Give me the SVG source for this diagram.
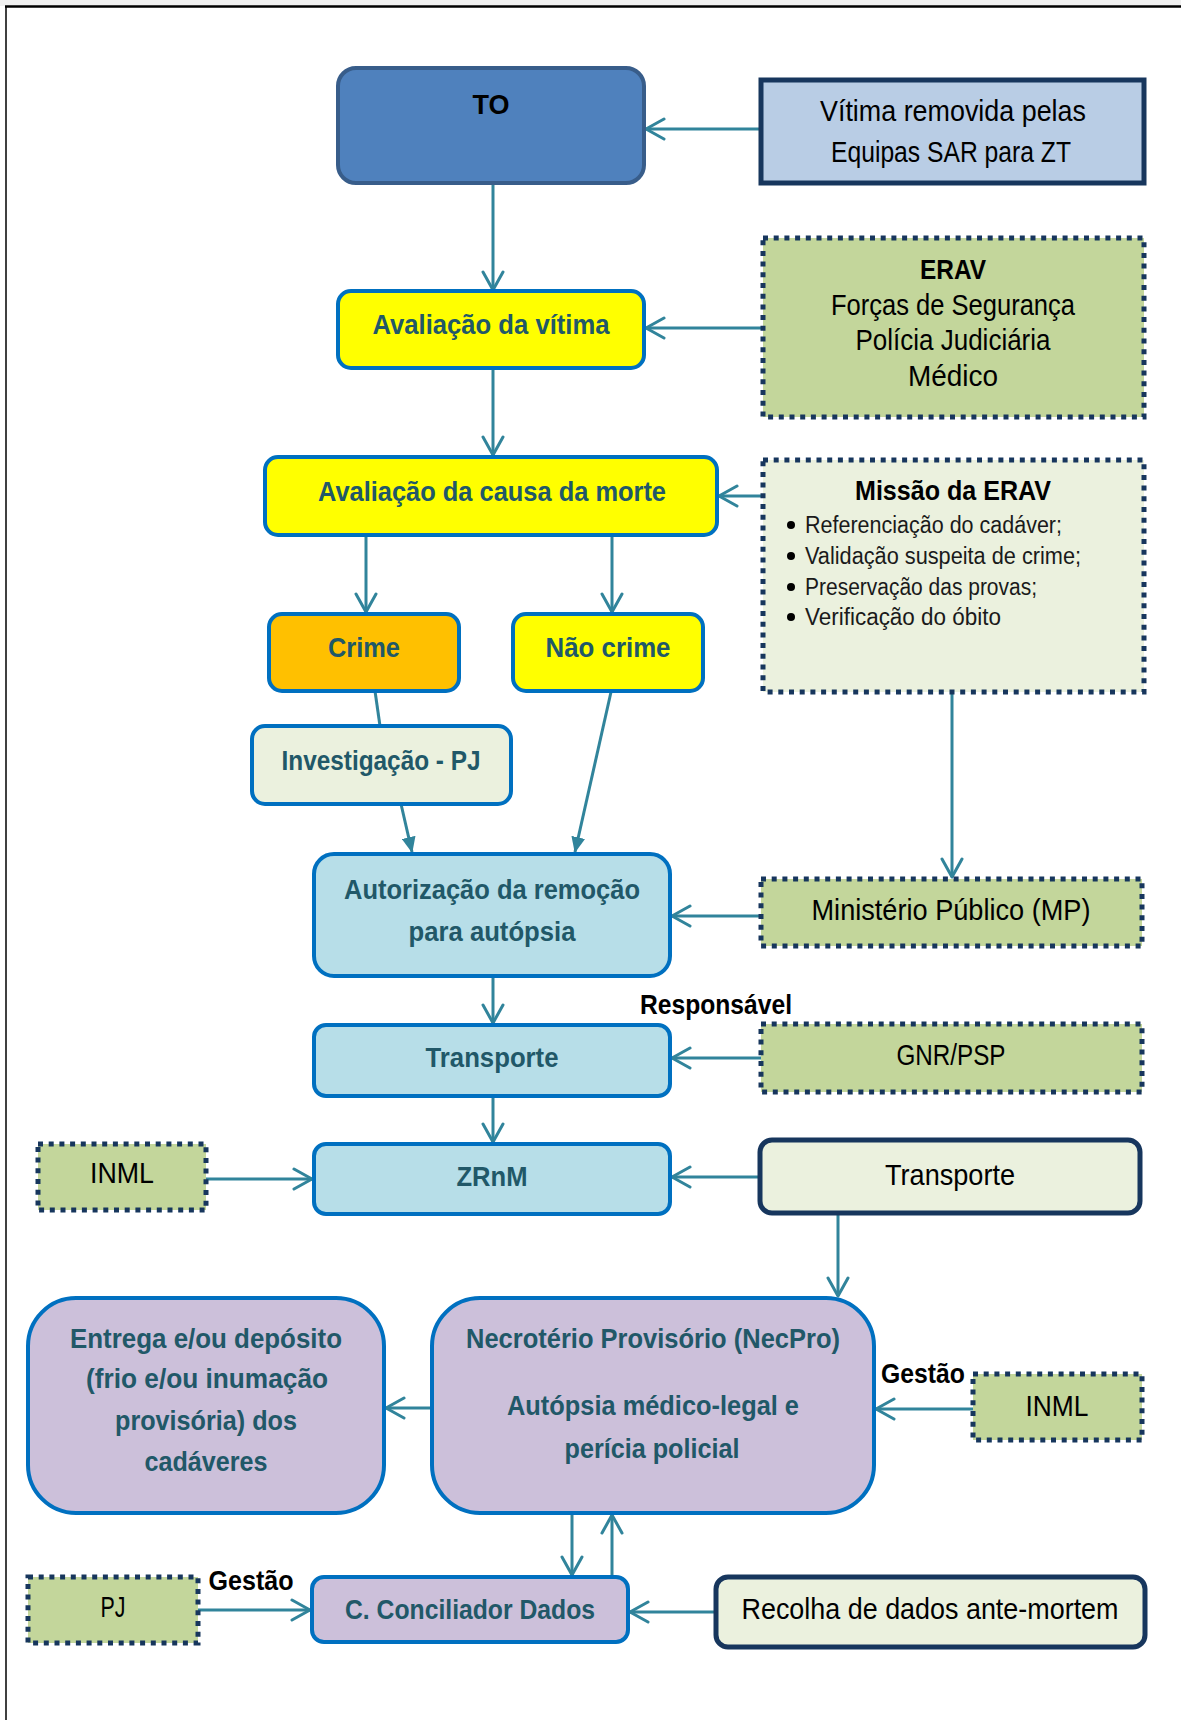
<svg xmlns="http://www.w3.org/2000/svg" width="1181" height="1720" viewBox="0 0 1181 1720">
<defs>
<style>
.t{font-family:"Liberation Sans",Arial,sans-serif;text-anchor:middle}
.b{font-weight:bold;font-size:28px;fill:#215868}
.r{font-size:29px;fill:#000}
.k{font-weight:bold;font-size:28px;fill:#000}
.s{font-family:"Liberation Sans",Arial,sans-serif;font-size:23px;fill:#1a1a1a}
.c{fill:none;stroke:#31849B;stroke-width:3}
.bl{stroke:#0070C0;stroke-width:4}
.dot{fill:#C3D69B;stroke:#17365D;stroke-width:5;stroke-dasharray:5 5.7}
.navy{stroke:#17365D;stroke-width:5}
</style>
<marker id="o" viewBox="0 0 24 24" markerWidth="24" markerHeight="24" refX="21" refY="12" orient="auto" markerUnits="userSpaceOnUse">
<path d="M3,2 L21,12 L3,22" fill="none" stroke="#31849B" stroke-width="3" stroke-linecap="round" stroke-linejoin="round"/>
</marker>
<marker id="f" viewBox="0 0 16 14" markerWidth="16" markerHeight="14" refX="15" refY="7" orient="auto" markerUnits="userSpaceOnUse">
<path d="M0,0 L16,7 L0,14 Z" fill="#31849B"/>
</marker>
</defs>
<rect x="0" y="0" width="1181" height="1720" fill="#fff"/>
<rect x="0" y="0" width="1181" height="6" fill="#F0F0F0"/>
<line x1="5" y1="6.5" x2="1181" y2="6.5" stroke="#000" stroke-width="2.5"/>
<line x1="6" y1="6" x2="6" y2="1720" stroke="#000" stroke-width="1.5"/>

<g id="connectors">
<path class="c" d="M761,129 H646" marker-end="url(#o)"/>
<path class="c" d="M493,183 V290" marker-end="url(#o)"/>
<path class="c" d="M763,328 H646" marker-end="url(#o)"/>
<path class="c" d="M493,368 V455" marker-end="url(#o)"/>
<path class="c" d="M763,496 H719" marker-end="url(#o)"/>
<path class="c" d="M366,535 V612" marker-end="url(#o)"/>
<path class="c" d="M612,535 V612" marker-end="url(#o)"/>
<path class="c" d="M375,691 L380,726"/>
<path class="c" d="M401,804 L412,852" marker-end="url(#f)"/>
<path class="c" d="M611,692 L575,852" marker-end="url(#f)"/>
<path class="c" d="M952,692 V877" marker-end="url(#o)"/>
<path class="c" d="M761,916 H672" marker-end="url(#o)"/>
<path class="c" d="M493,976 V1023" marker-end="url(#o)"/>
<path class="c" d="M761,1058 H672" marker-end="url(#o)"/>
<path class="c" d="M493,1096 V1142" marker-end="url(#o)"/>
<path class="c" d="M206,1179 H312" marker-end="url(#o)"/>
<path class="c" d="M760,1177 H672" marker-end="url(#o)"/>
<path class="c" d="M838,1213 V1296" marker-end="url(#o)"/>
<path class="c" d="M432,1408 H386" marker-end="url(#o)"/>
<path class="c" d="M973,1409 H876" marker-end="url(#o)"/>
<path class="c" d="M572,1513 V1575" marker-end="url(#o)"/>
<path class="c" d="M612,1577 V1515" marker-end="url(#o)"/>
<path class="c" d="M198,1610 H310" marker-end="url(#o)"/>
<path class="c" d="M716,1612 H630" marker-end="url(#o)"/>
</g>

<g id="to">
<rect x="338" y="68" width="306" height="115" rx="18" fill="#4F81BD" stroke="#385D8A" stroke-width="4"/>
<text class="t k" x="491" y="114" textLength="37" lengthAdjust="spacingAndGlyphs">TO</text>
</g>
<g id="vitima-removida">
<rect x="761" y="80" width="383" height="103" fill="#B9CDE5" class="navy"/>
<text class="t r" x="953" y="121" textLength="266" lengthAdjust="spacingAndGlyphs">Vítima removida pelas</text>
<text class="t r" x="951" y="162" textLength="240" lengthAdjust="spacingAndGlyphs">Equipas SAR para ZT</text>
</g>
<g id="avaliacao-vitima">
<rect x="338" y="291" width="306" height="77" rx="13" fill="#FFFF00" class="bl"/>
<text class="t b" x="491" y="334" textLength="237" lengthAdjust="spacingAndGlyphs">Avaliação da vítima</text>
</g>
<g id="erav">
<rect x="763" y="238" width="381" height="179" class="dot"/>
<text class="t k" x="953" y="279" textLength="66" lengthAdjust="spacingAndGlyphs">ERAV</text>
<text class="t r" x="953" y="315" textLength="244" lengthAdjust="spacingAndGlyphs">Forças de Segurança</text>
<text class="t r" x="953" y="350" textLength="195" lengthAdjust="spacingAndGlyphs">Polícia Judiciária</text>
<text class="t r" x="953" y="386" textLength="90" lengthAdjust="spacingAndGlyphs">Médico</text>
</g>
<g id="avaliacao-causa">
<rect x="265" y="457" width="452" height="78" rx="13" fill="#FFFF00" class="bl"/>
<text class="t b" x="492" y="501" textLength="348" lengthAdjust="spacingAndGlyphs">Avaliação da causa da morte</text>
</g>
<g id="missao-erav">
<rect x="763" y="460" width="381" height="232" class="dot" style="fill:#EBF1DE"/>
<text class="t k" x="953" y="500" textLength="196" lengthAdjust="spacingAndGlyphs">Missão da ERAV</text>
<circle cx="791" cy="525" r="4" fill="#000"/>
<circle cx="791" cy="556" r="4" fill="#000"/>
<circle cx="791" cy="587" r="4" fill="#000"/>
<circle cx="791" cy="617" r="4" fill="#000"/>
<text class="s" x="805" y="533" textLength="257" lengthAdjust="spacingAndGlyphs">Referenciação do cadáver;</text>
<text class="s" x="805" y="564" textLength="276" lengthAdjust="spacingAndGlyphs">Validação suspeita de crime;</text>
<text class="s" x="805" y="595" textLength="232" lengthAdjust="spacingAndGlyphs">Preservação das provas;</text>
<text class="s" x="805" y="625" textLength="196" lengthAdjust="spacingAndGlyphs">Verificação do óbito</text>
</g>
<g id="crime">
<rect x="269" y="614" width="190" height="77" rx="13" fill="#FFC000" class="bl"/>
<text class="t b" x="364" y="657" textLength="72" lengthAdjust="spacingAndGlyphs">Crime</text>
</g>
<g id="nao-crime">
<rect x="513" y="614" width="190" height="77" rx="13" fill="#FFFF00" class="bl"/>
<text class="t b" x="608" y="657" textLength="125" lengthAdjust="spacingAndGlyphs">Não crime</text>
</g>
<g id="investigacao">
<rect x="252" y="726" width="259" height="78" rx="13" fill="#EBF1DE" class="bl"/>
<text class="t b" x="381" y="770" textLength="199" lengthAdjust="spacingAndGlyphs">Investigação - PJ</text>
</g>
<g id="autorizacao">
<rect x="314" y="854" width="356" height="122" rx="20" fill="#B7DEE8" class="bl"/>
<text class="t b" x="492" y="899" textLength="296" lengthAdjust="spacingAndGlyphs">Autorização da remoção</text>
<text class="t b" x="492" y="941" textLength="167" lengthAdjust="spacingAndGlyphs">para autópsia</text>
</g>
<g id="mp">
<rect x="761" y="879" width="381" height="67" class="dot"/>
<text class="t r" x="951" y="920" textLength="279" lengthAdjust="spacingAndGlyphs">Ministério Público (MP)</text>
</g>
<text class="t k" x="716" y="1014" textLength="152" lengthAdjust="spacingAndGlyphs">Responsável</text>
<g id="transporte">
<rect x="314" y="1025" width="356" height="71" rx="12" fill="#B7DEE8" class="bl"/>
<text class="t b" x="492" y="1067" textLength="133" lengthAdjust="spacingAndGlyphs">Transporte</text>
</g>
<g id="gnr-psp">
<rect x="761" y="1024" width="381" height="68" class="dot"/>
<text class="t r" x="951" y="1065" textLength="109" lengthAdjust="spacingAndGlyphs">GNR/PSP</text>
</g>
<g id="inml-1">
<rect x="38" y="1144" width="168" height="66" class="dot"/>
<text class="t r" x="122" y="1183" textLength="64" lengthAdjust="spacingAndGlyphs">INML</text>
</g>
<g id="zrnm">
<rect x="314" y="1144" width="356" height="70" rx="12" fill="#B7DEE8" class="bl"/>
<text class="t b" x="492" y="1186" textLength="71" lengthAdjust="spacingAndGlyphs">ZRnM</text>
</g>
<g id="transporte-2">
<rect x="760" y="1140" width="380" height="73" rx="12" fill="#EBF1DE" class="navy"/>
<text class="t r" x="950" y="1185" textLength="130" lengthAdjust="spacingAndGlyphs">Transporte</text>
</g>
<g id="entrega">
<rect x="28" y="1298" width="356" height="215" rx="48" fill="#CCC0DA" class="bl"/>
<text class="t b" x="206" y="1348" textLength="272" lengthAdjust="spacingAndGlyphs">Entrega e/ou depósito</text>
<text class="t b" x="207" y="1388" textLength="242" lengthAdjust="spacingAndGlyphs">(frio e/ou inumação</text>
<text class="t b" x="206" y="1430" textLength="182" lengthAdjust="spacingAndGlyphs">provisória) dos</text>
<text class="t b" x="206" y="1471" textLength="123" lengthAdjust="spacingAndGlyphs">cadáveres</text>
</g>
<g id="necpro">
<rect x="432" y="1298" width="442" height="215" rx="48" fill="#CCC0DA" class="bl"/>
<text class="t b" x="653" y="1348" textLength="374" lengthAdjust="spacingAndGlyphs">Necrotério Provisório (NecPro)</text>
<text class="t b" x="653" y="1415" textLength="292" lengthAdjust="spacingAndGlyphs">Autópsia médico-legal e</text>
<text class="t b" x="652" y="1458" textLength="175" lengthAdjust="spacingAndGlyphs">perícia policial</text>
</g>
<text class="t k" x="923" y="1383" textLength="84" lengthAdjust="spacingAndGlyphs">Gestão</text>
<g id="inml-2">
<rect x="973" y="1374" width="169" height="66" class="dot"/>
<text class="t r" x="1057" y="1416" textLength="63" lengthAdjust="spacingAndGlyphs">INML</text>
</g>
<text class="t k" x="251" y="1590" textLength="85" lengthAdjust="spacingAndGlyphs">Gestão</text>
<g id="pj">
<rect x="28" y="1577" width="170" height="66" class="dot"/>
<text class="t r" x="113" y="1617" textLength="25" lengthAdjust="spacingAndGlyphs">PJ</text>
</g>
<g id="conciliador">
<rect x="312" y="1577" width="316" height="65" rx="12" fill="#CCC0DA" class="bl"/>
<text class="t b" x="470" y="1619" textLength="250" lengthAdjust="spacingAndGlyphs">C. Conciliador Dados</text>
</g>
<g id="recolha">
<rect x="716" y="1577" width="429" height="70" rx="12" fill="#EBF1DE" class="navy"/>
<text class="t r" x="930" y="1619" textLength="377" lengthAdjust="spacingAndGlyphs">Recolha de dados ante-mortem</text>
</g>
</svg>
